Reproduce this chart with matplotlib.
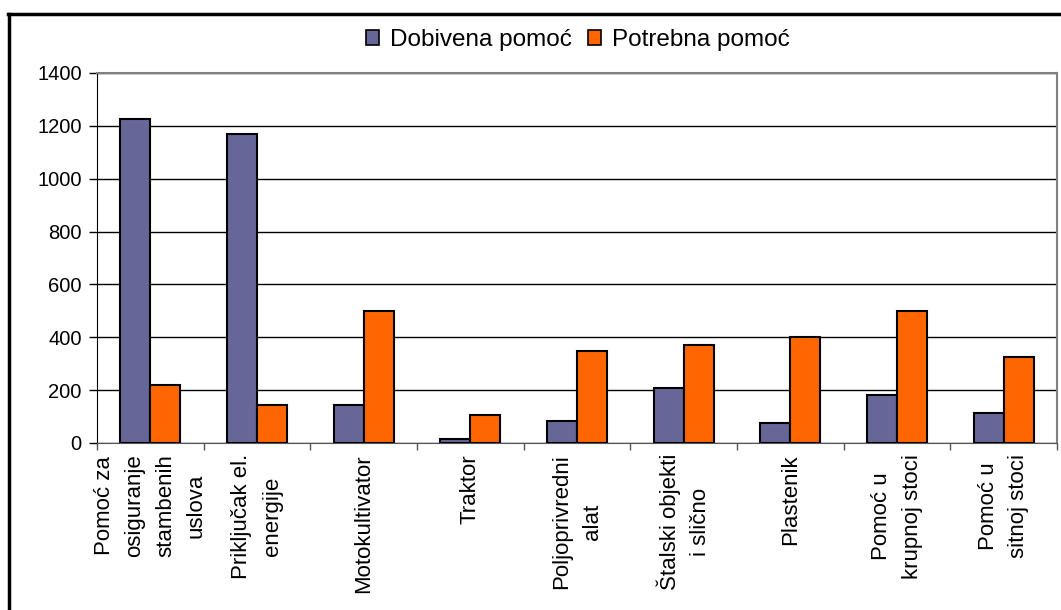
"""Dobivena i potrebna pomoć po vrsti pomoći."""

import matplotlib

matplotlib.use("Agg")

import matplotlib.pyplot as plt
import numpy as np
from matplotlib.lines import Line2D
from matplotlib.patches import Patch

categories = [
    "Pomoć za\nosiguranje\nstambenih\nuslova",
    "Priključak el.\nenergije",
    "Motokultivator",
    "Traktor",
    "Poljoprivredni\nalat",
    "Štalski objekti\ni slično",
    "Plastenik",
    "Pomoć u\nkrupnoj stoci",
    "Pomoć u\nsitnoj stoci",
]
dobivena = [1225, 1170, 145, 15, 85, 210, 75, 180, 115]
potrebna = [220, 145, 500, 105, 350, 370, 400, 500, 325]
series_names = ["Dobivena pomoć", "Potrebna pomoć"]
y_ticks = [0, 200, 400, 600, 800, 1000, 1200, 1400]

BLUE = "#666699"
ORANGE = "#FF6600"
FONT = ["Liberation Sans", "DejaVu Sans"]

plt.rcParams["font.family"] = FONT

fig = plt.figure(figsize=(10.61, 6.10), dpi=100)
axis = fig.add_axes([97 / 1061, 1 - 443 / 610, 960 / 1061, 370 / 610])

x = np.arange(len(categories))
width = 0.28
axis.bar(x - width / 2, dobivena, width, color=BLUE, edgecolor="black",
         linewidth=1.5, zorder=3)
axis.bar(x + width / 2, potrebna, width, color=ORANGE, edgecolor="black",
         linewidth=1.5, zorder=3)

axis.set_xlim(-0.5, len(categories) - 0.5)
axis.set_ylim(0, 1400)
axis.set_yticks(y_ticks)
axis.tick_params(axis="y", labelsize=14.5, length=6, width=1, pad=5,
                 direction="out")
axis.yaxis.grid(True, color="black", linewidth=1, zorder=0)

# category boundaries get the tick marks, centres get the labels
axis.set_xticks(np.arange(-0.5, len(categories), 1.0))
axis.set_xticklabels([])
axis.tick_params(axis="x", which="major", length=5, width=1, color="#555555")
axis.set_xticks(x, minor=True)
axis.set_xticklabels(categories, minor=True, rotation=90, fontsize=16,
                     ha="center", va="top", linespacing=1.6)
axis.tick_params(axis="x", which="minor", length=0, pad=8)

for side in ("top", "right"):
    axis.spines[side].set_color("#808080")
    axis.spines[side].set_linewidth(1.5)
axis.spines["left"].set_color("black")
axis.spines["bottom"].set_color("#555555")

handles = [
    Patch(facecolor=BLUE, edgecolor="black", linewidth=1.2),
    Patch(facecolor=ORANGE, edgecolor="black", linewidth=1.2),
]
fig.legend(handles, series_names, loc="center", ncol=2,
           bbox_to_anchor=(578 / 1061, 1 - 40 / 610), frameon=False,
           fontsize=17.5, handlelength=0.55, handleheight=0.55,
           handletextpad=0.45, columnspacing=0.65)

# outer chart border (cropped at right and bottom)
fig.add_artist(Line2D([8.5 / 1061, 8.5 / 1061], [-0.1, 1 - 14 / 610],
                      transform=fig.transFigure, color="black", linewidth=2.5))
fig.add_artist(Line2D([8 / 1061, 1.1], [1 - 14 / 610, 1 - 14 / 610],
                      transform=fig.transFigure, color="black", linewidth=2.5))

fig.savefig("out.png", dpi=100)
plt.close(fig)
